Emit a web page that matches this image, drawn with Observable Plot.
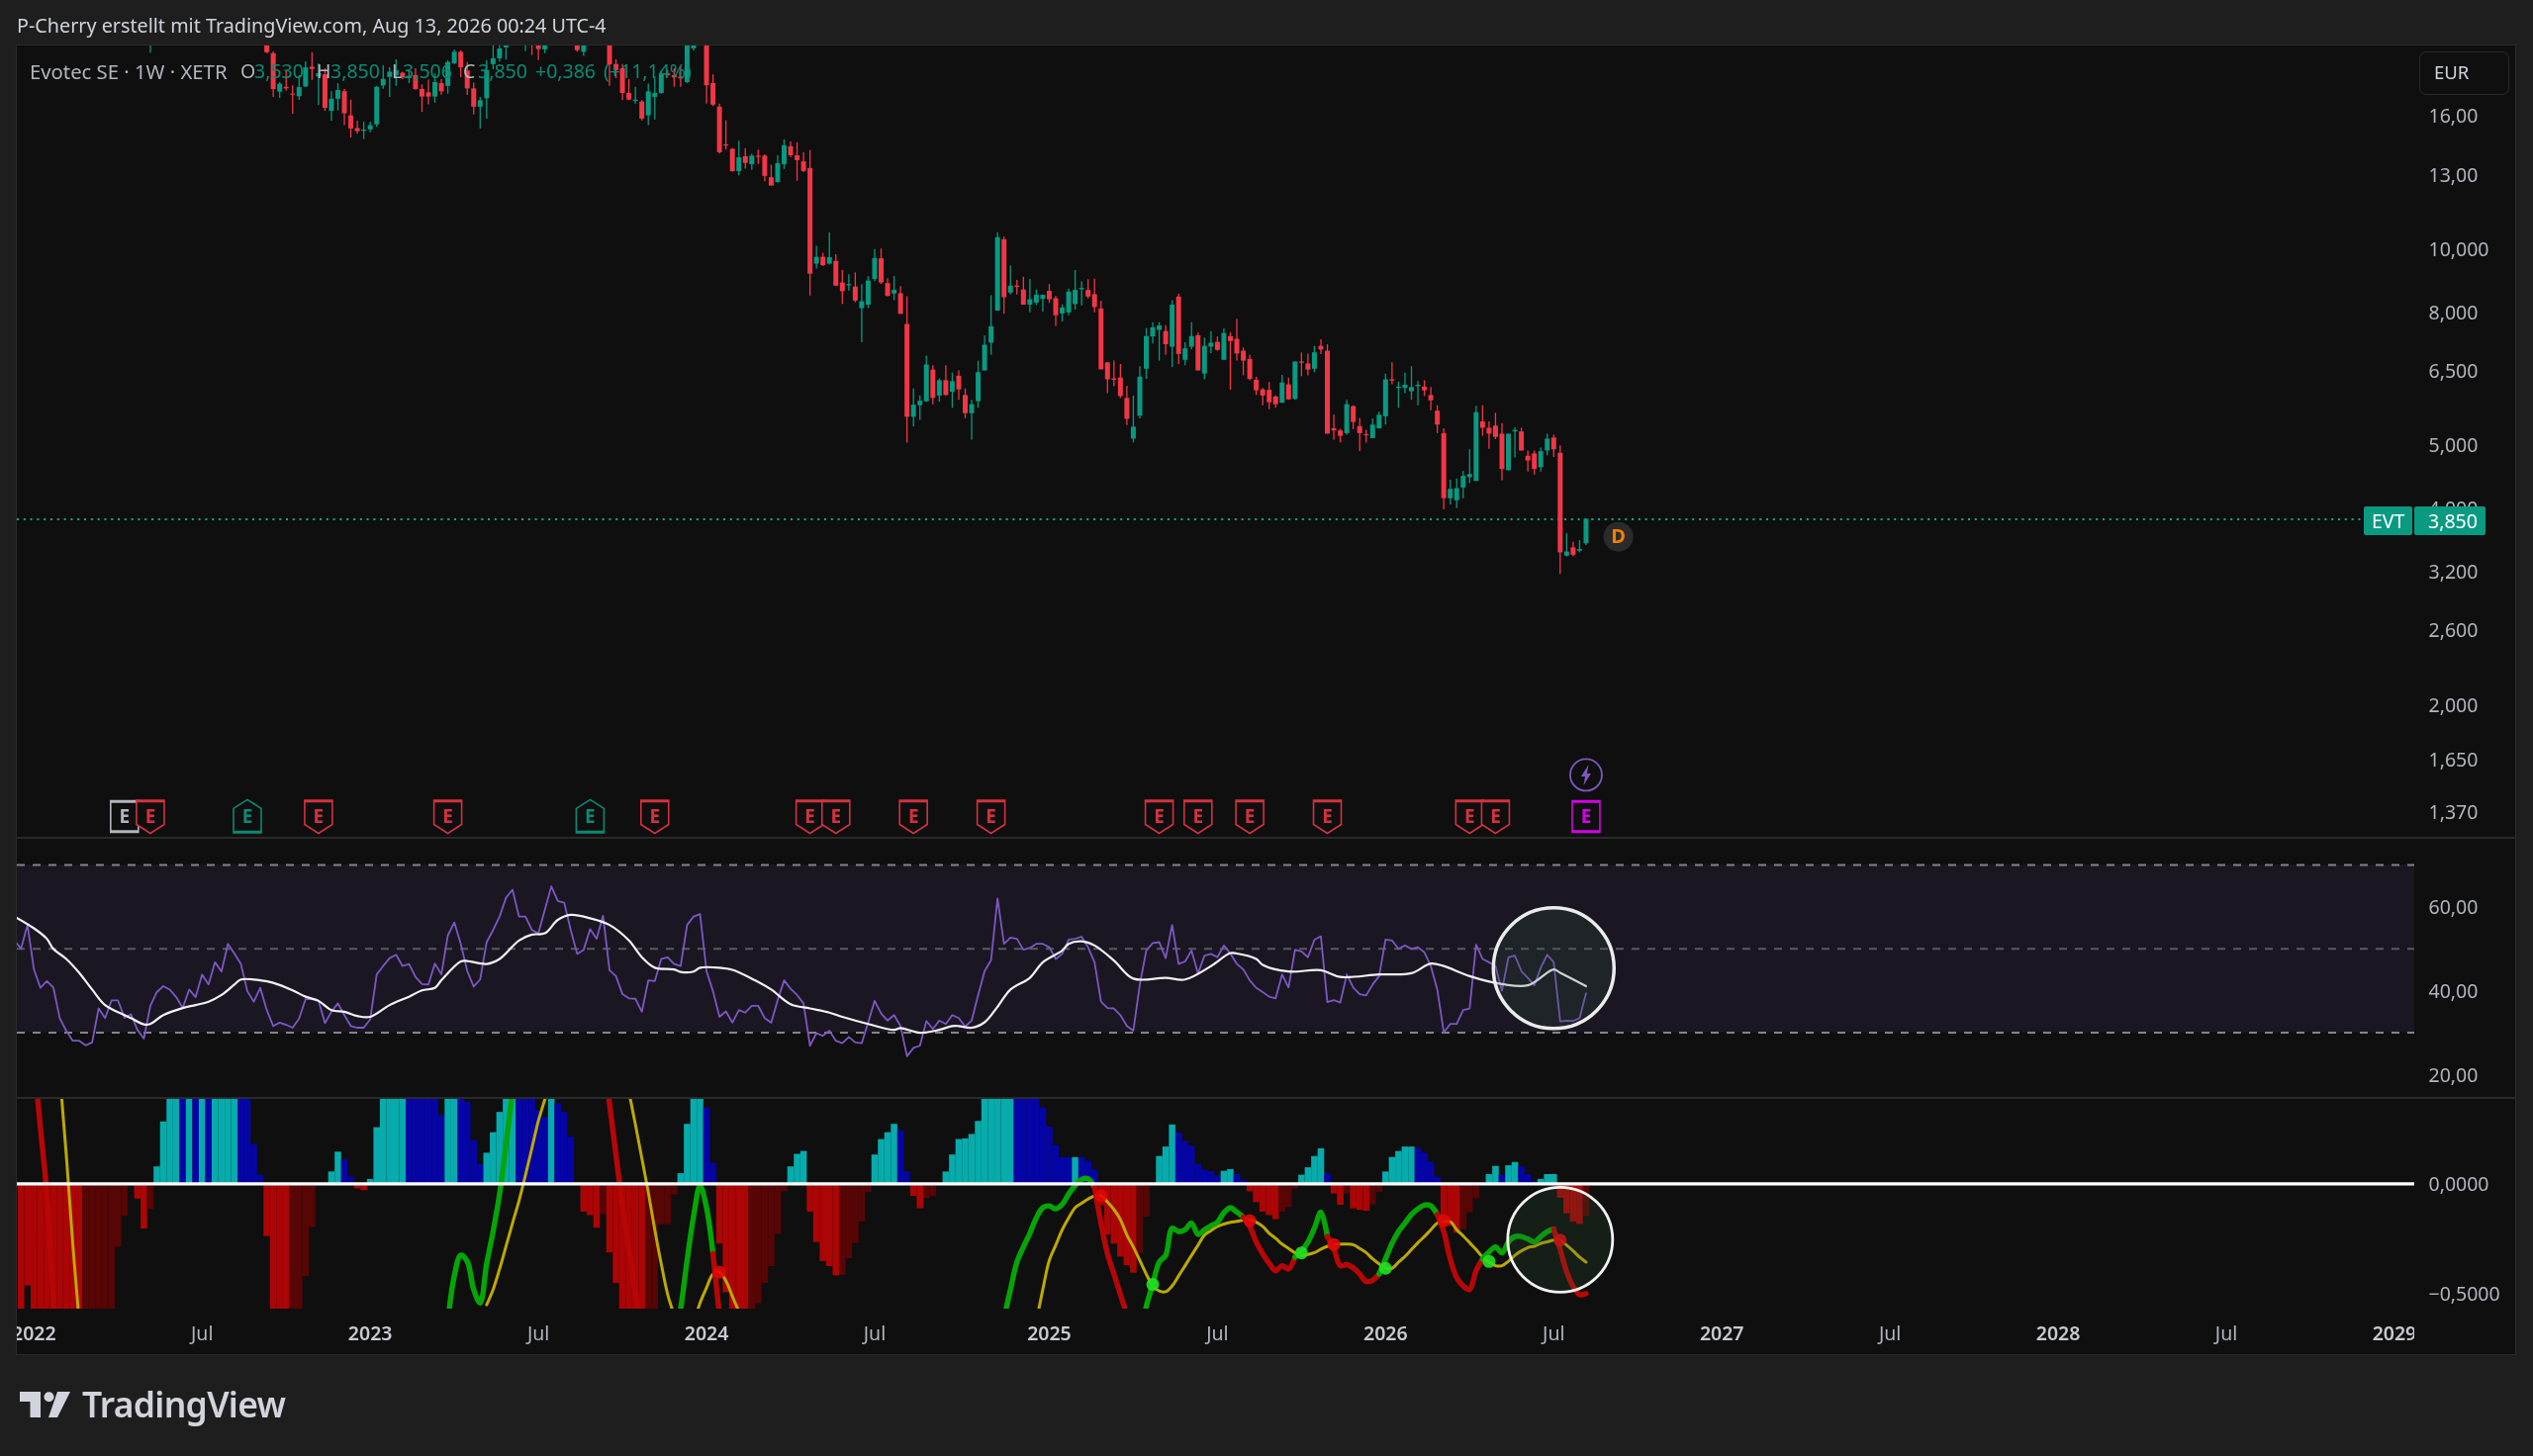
<!DOCTYPE html>
<html><head><meta charset="utf-8">
<script src="https://cdn.jsdelivr.net/npm/d3@7"></script>
<script src="https://cdn.jsdelivr.net/npm/@observablehq/plot@0.6"></script>
<style>
html,body{margin:0;padding:0;background:#1e1e1e}
#root{position:relative;width:2560px;height:1472px;background:#1e1e1e;overflow:hidden;font-family:"Noto Sans",sans-serif}
#panel{position:absolute;left:16px;top:45px;width:2527px;height:1325px;background:#0f0f0f;border:1.5px solid #2a2a2a;box-sizing:border-box}
.pane{position:absolute;left:17px}
.sep{position:absolute;left:17px;width:2526px;height:2px;background:#2a2a2a}
.t{position:absolute;white-space:nowrap;line-height:1}
</style></head><body><div id="root"><div id="panel"></div></div>
<script>
// ---------- time ----------
const firstWeek = Date.UTC(2022, 0, 3);
const week = i => new Date(firstWeek + i * 7 * 864e5);
const xDomain = [new Date("2021-12-16"), new Date("2029-01-23")];

// ---------- candles (weekly, first one = bar 36) ----------
const candleStart = 36;
const open = [
21.0,19.93,17.4,17.7,17.28,17.12,17.72,19.0,18.35,18.5,
16.26,16.97,17.43,16.0,15.3,15.15,15.23,15.5,17.78,18.33,
18.43,18.6,18.25,18.45,17.56,17.36,17.1,17.93,17.76,19.23,
20.03,18.75,17.6,16.5,17.0,19.18,19.57,20.35,21.0,21.6,
20.6,21.4,21.0,20.2,21.0,21.7,22.2,21.9,21.0,20.03,
20.8,21.4,22.0,21.5,19.18,18.9,17.32,16.84,16.8,16.0,
17.07,17.32,18.56,18.45,18.35,18.0,20.27,21.0,21.5,17.93,
16.5,14.44,14.22,13.14,13.85,13.47,13.88,13.88,12.86,12.65,
13.47,14.35,13.9,13.6,13.29,9.48,9.71,9.48,9.57,8.87,
8.78,8.74,8.1,8.2,8.98,9.66,8.85,8.53,8.54,7.66,
5.52,5.75,5.83,6.52,5.95,6.28,6.03,6.38,5.96,5.59,
5.83,6.5,7.17,8.03,10.33,8.56,8.77,8.65,8.2,8.26,
8.37,8.61,8.39,7.95,7.98,8.22,8.66,8.64,8.51,8.09,
6.69,6.32,6.34,5.9,5.11,5.54,6.54,7.33,7.5,7.47,
7.07,8.44,6.75,7.07,7.36,6.43,7.07,7.19,6.75,7.34,
7.27,6.97,6.77,6.29,6.08,6.07,5.93,5.8,6.19,5.88,
6.71,6.66,6.54,7.09,6.97,5.3,5.26,5.21,5.73,5.34,
5.19,5.12,5.3,5.53,6.3,6.11,6.11,6.04,6.15,6.14,
5.96,5.64,5.21,4.14,4.11,4.3,4.46,4.4,5.43,5.31,
5.35,5.2,4.57,5.24,5.24,4.81,4.85,4.62,4.9,5.13,
4.86,3.38,3.48,3.44,3.53];
const high = [
21.8,20.06,18.0,18.7,17.8,18.45,19.36,20.0,19.23,18.9,
17.43,17.93,17.56,16.92,15.7,15.65,15.65,17.75,19.1,18.96,
19.5,18.67,18.83,18.9,17.85,18.15,18.56,18.19,19.45,20.2,
20.15,19.32,17.97,17.08,19.45,20.5,20.6,21.0,22.0,22.2,
21.5,21.8,21.3,21.3,22.0,22.6,22.8,22.1,21.2,21.0,
21.7,22.3,22.4,22.0,19.5,19.18,18.19,17.7,16.88,17.9,
18.35,18.78,18.78,18.9,19.05,20.8,21.5,22.0,22.0,18.5,
16.68,15.72,14.25,14.63,14.25,13.97,14.18,13.95,13.44,13.9,
14.7,14.6,14.55,14.05,14.16,10.1,9.85,10.59,9.8,9.27,
9.13,9.19,8.82,9.07,9.98,10.0,9.0,9.07,8.76,8.45,
6.1,5.95,6.85,6.62,6.32,6.62,6.45,6.5,6.1,5.86,
6.73,7.36,8.48,10.58,10.43,9.42,8.95,9.05,8.98,8.65,
8.5,8.82,8.46,8.21,8.68,9.27,8.9,8.97,8.99,8.32,
6.69,6.73,6.65,6.16,5.95,6.6,7.55,7.71,7.71,7.63,
8.33,8.52,7.18,7.71,7.43,7.3,7.47,7.33,7.54,7.44,
7.8,7.05,6.87,6.36,6.11,6.24,5.95,6.4,6.34,6.71,
6.93,6.9,7.09,7.26,7.13,5.56,5.29,5.86,5.75,5.5,
5.27,5.49,5.62,6.43,6.69,6.25,6.45,6.6,6.26,6.28,
6.13,5.75,5.3,4.42,4.44,4.56,4.92,5.74,5.75,5.43,
5.6,5.4,5.2,5.32,5.31,4.9,4.9,4.95,5.2,5.18,
4.99,3.66,3.55,3.57,3.85];
const low = [
19.93,17.08,17.02,17.45,16.1,16.9,17.68,18.14,16.6,16.25,
15.7,16.28,15.46,14.8,15.0,14.72,15.07,15.37,17.58,17.08,
17.76,18.19,17.93,17.52,16.2,16.63,16.73,17.22,17.28,19.18,
18.32,17.2,16.05,15.28,15.82,18.83,19.35,19.5,20.9,20.8,
20.08,19.8,19.45,19.93,20.9,21.4,21.5,21.0,20.03,19.75,
20.5,21.2,21.2,17.76,18.25,16.88,16.88,16.68,15.72,15.46,
15.78,17.28,18.35,17.7,17.7,17.93,20.1,20.8,16.68,16.53,
13.98,14.18,13.12,12.95,13.26,13.2,13.48,12.68,12.49,12.61,
13.24,13.8,12.7,13.1,8.47,9.32,9.4,9.45,8.77,8.22,
8.62,8.27,7.18,8.1,8.91,8.82,8.44,8.33,7.94,5.04,
5.33,5.46,5.82,5.77,5.82,5.96,5.7,5.86,5.49,5.09,
5.7,6.5,6.87,8.03,7.94,8.5,8.5,8.2,7.98,8.19,
8.0,8.25,7.61,7.73,7.9,8.06,8.18,8.38,7.98,6.52,
6.0,6.15,5.9,5.36,5.04,5.49,6.31,7.15,6.73,6.87,
6.58,6.65,6.62,7.0,6.5,6.3,6.91,6.97,6.75,6.07,
6.73,6.39,6.28,5.96,5.75,5.67,5.7,5.8,5.86,5.86,
6.37,6.39,6.46,6.89,5.2,5.09,5.04,5.18,5.28,4.89,
5.04,5.12,5.3,5.37,6.19,5.7,6.0,5.86,5.75,5.94,
5.65,5.21,3.98,4.05,4.0,4.14,4.37,4.4,5.16,4.93,
5.1,4.41,4.57,4.78,4.9,4.55,4.5,4.55,4.82,4.79,
3.17,3.37,3.37,3.42,3.506];
const close = [
20.0,17.56,17.9,17.6,17.22,17.68,18.96,18.85,18.57,16.43,
16.97,17.5,16.12,15.28,15.13,15.22,15.46,17.7,18.2,18.67,
18.78,18.3,18.4,17.56,17.1,17.1,18.0,17.42,19.32,20.03,
18.96,17.6,16.5,16.88,18.78,19.57,20.27,20.8,21.6,21.0,
21.0,20.9,20.22,21.0,21.7,22.2,21.9,21.2,20.15,20.8,
21.4,22.0,21.5,19.16,18.78,17.32,16.92,16.92,15.82,17.42,
17.32,18.56,18.45,18.3,18.23,20.5,21.0,21.6,17.8,16.62,
14.05,14.38,13.14,13.8,13.53,13.88,13.82,12.92,12.49,13.52,
14.4,13.9,13.66,13.15,9.15,9.71,9.43,9.7,8.77,8.6,
8.82,8.32,8.3,8.93,9.67,8.87,8.46,8.64,7.94,5.52,
5.76,5.84,6.64,5.9,6.28,5.96,6.26,6.08,5.59,5.77,
6.46,7.12,7.6,10.41,8.42,8.77,8.73,8.2,8.36,8.49,
8.49,8.36,7.9,8.12,8.59,8.64,8.7,8.44,8.13,6.53,
6.3,6.29,5.94,5.48,5.33,6.36,7.34,7.57,7.62,7.13,
8.2,6.89,7.03,7.34,6.5,7.09,7.17,6.99,7.42,7.21,
6.9,6.73,6.31,6.06,5.95,5.81,5.77,6.23,5.87,6.71,
6.68,6.52,6.93,7.0,5.2,5.26,5.16,5.77,5.42,5.21,
5.17,5.37,5.56,6.3,6.27,6.14,6.18,6.13,6.18,6.06,
5.85,5.37,4.14,4.28,4.29,4.48,4.51,5.61,5.31,5.2,
5.14,4.59,5.2,5.27,4.9,4.73,4.59,4.89,5.11,4.92,
3.42,3.43,3.39,3.46,3.85];
const earlyBar = {i: 18, o: 22, h: 23, l: 19.97, c: 22.5};
const lastPrice = 3.85;

// ---------- tick labels ----------
const priceTicks = [16,13,10,8,6.5,5,4,3.2,2.6,2,1.65,1.37];
const priceLabels = ["16,00","13,00","10,000","8,000","6,500","5,000","4,000","3,200","2,600","2,000","1,650","1,370"];
const rsiTicks = [60,40,20];
const rsiLabels = ["60,00","40,00","20,00"];
const macdTicks = [0,-0.5];
const macdLabels = ["0,0000","\u22120,5000"];
const yearDates = ["2022-01-03","2023-01-02","2024-01-01","2025-01-06","2026-01-05","2027-01-04","2028-01-03","2029-01-01"];
const yearLabels = ["2022","2023","2024","2025","2026","2027","2028","2029"];
const julDates = ["2022-07-04","2023-07-03","2024-07-01","2025-07-07","2026-07-06","2027-07-05","2028-07-03"];

// ---------- earnings events ----------
const eventBars = [14,18,33,44,64,86,96,120,124,136,148,174,180,188,200,222,226,240];
const eventKinds = ["flat","down","up","down","down","up","down","down","down","down","down","down","down","down","down","down","down","next"];
const eventPrice = 1.348;
const dividendBar = 245, dividendPrice = 3.62;
const splitBar = 240, splitPrice = 1.561;

// ---------- RSI (first = bar -3) ----------
const rsiStart = -3;
const rsi = [
52.0,50.0,55.7,45.1,40.7,42.3,40.8,33.4,30.5,28.1,
28.1,27.0,27.7,35.8,33.5,37.7,37.7,33.6,34.4,30.7,
28.6,36.4,39.7,41.1,40.3,38.5,35.9,40.3,38.5,43.9,
41.5,46.8,44.6,51.2,48.9,46.4,39.9,37.4,40.7,35.4,
31.6,32.4,31.9,31.2,33.4,38.0,38.0,37.7,32.3,35.0,
37.0,34.2,31.6,31.2,31.2,33.2,43.9,45.9,47.8,48.6,
45.9,46.4,43.3,41.6,41.5,46.5,43.9,53.2,56.3,51.2,
44.7,41.0,42.7,51.6,54.5,57.7,62.2,64.1,57.7,57.7,
54.5,53.7,59.3,64.9,61.4,61.0,54.5,48.8,49.8,54.7,
52.4,57.9,44.9,43.5,39.2,38.2,38.1,35.0,42.5,42.3,
47.6,48.0,46.4,45.9,55.7,57.7,58.3,44.7,39.9,33.8,
35.1,32.4,35.4,34.8,36.4,36.4,33.5,32.4,37.8,42.5,
40.5,39.0,37.0,26.9,29.9,29.3,30.5,28.1,27.5,29.0,
27.7,27.5,32.5,37.6,34.6,32.9,34.2,31.6,24.4,26.4,
26.9,32.8,30.9,32.9,32.1,34.2,33.5,31.5,32.9,39.0,
44.7,47.3,62.0,51.2,52.7,52.4,49.8,50.2,51.2,51.2,
50.4,47.6,48.8,52.2,52.4,52.9,50.4,46.8,37.4,35.9,
35.8,34.2,31.6,30.5,41.5,49.6,51.4,51.6,47.8,55.7,
46.4,47.0,49.6,44.1,48.4,48.8,48.0,50.8,48.9,46.4,
45.1,42.5,40.7,39.7,38.6,38.2,43.9,40.8,49.8,49.4,
48.0,52.2,53.0,37.3,37.8,37.2,43.9,40.8,39.2,38.9,
41.5,43.5,52.2,52.0,50.0,50.8,50.0,50.4,49.2,45.9,
40.3,30.1,32.1,32.1,35.4,35.8,51.0,47.6,46.8,45.9,
40.0,48.0,48.4,44.7,43.1,41.3,45.5,48.6,46.8,32.7,
32.9,32.8,33.5,39.4];
const rsiMaBars = [-3,0,2,3,5,7,9,11,14,15,17,18,20,23,25,27,29,31,32,35,37,40,42,44,46,48,50,52,55,58,60,62,63,66,67,70,72,75,77,79,81,83,86,89,92,94,96,99,100,102,103,106,108,111,114,117,120,123,125,129,133,134,137,140,142,143,145,147,149,151,154,156,159,160,162,164,167,170,175,178,182,185,186,189,190,194,199,202,208,213,216,218,222,227,231,235,236,240];
const rsiMa = [57.7,54.9,52.4,50.0,47.6,44.3,40.3,36.6,34.2,33.5,32.0,32.1,34.2,35.9,36.6,37.4,39.0,41.5,42.7,42.5,41.9,40.1,38.6,37.6,35.4,35.0,34.0,33.8,36.6,38.6,40.1,40.7,42.5,47.0,47.1,46.4,47.6,52.0,53.4,53.7,56.9,58.1,57.3,55.7,52.0,48.0,45.5,45.1,44.5,44.6,45.5,45.5,45.0,42.9,40.3,36.8,35.8,34.8,33.8,32.1,30.7,31.1,30.0,30.7,31.6,31.6,31.2,32.5,36.2,40.3,43.1,46.8,49.6,51.2,51.8,50.8,47.2,42.9,43.1,42.7,45.9,49.0,48.9,47.6,46.2,44.6,44.9,43.3,43.9,44.2,46.5,45.9,43.5,41.6,41.3,45.1,44.3,41.1];

// ---------- MACD histogram (first = bar -2) ----------
const histStart = -2;
const hist = [
-.62,-.463,-.62,-.62,-.62,-.62,-.62,-.62,-.62,-.62,
-.62,-.62,-.62,-.62,-.62,-.286,-.147,-.008,-.069,-.205,
-.116,.077,.281,.45,.45,.45,.45,.45,.45,.45,
.45,.45,.45,.45,.45,.45,.178,.039,-.239,-.62,
-.62,-.62,-.62,-.62,-.42,-.198,-.008,.002,.054,.144,
.108,.031,-.023,-.031,.02,.255,.45,.45,.45,.45,
.45,.45,.45,.45,.45,.309,.45,.45,.45,.371,
.196,.088,.139,.232,.324,.45,.45,.45,.45,.45,
.332,.301,.45,.363,.324,.212,-.002,-.128,-.144,-.201,
-.139,-.313,-.452,-.62,-.62,-.62,-.62,-.62,-.62,-.185,
-.185,-.051,.046,.27,.45,.45,.344,.093,-.273,-.494,
-.62,-.62,-.62,-.62,-.545,-.452,-.375,-.229,-.036,.077,
.134,.147,-.128,-.266,-.352,-.375,-.417,-.414,-.34,-.27,
-.173,-.039,.131,.201,.232,.27,.242,.054,-.057,-.113,
-.066,-.057,.001,.054,.131,.201,.204,.224,.283,.45,
.45,.45,.45,.45,.45,.45,.45,.45,.344,.258,
.174,.119,.119,.119,.119,.103,.062,-.1,-.232,-.273,
-.332,-.371,-.405,-.317,-.15,-.008,.124,.167,.267,.232,
.193,.17,.088,.062,.054,.036,.057,.065,.043,.015,
-.036,-.085,-.128,-.144,-.162,-.128,-.108,-.023,.039,.073,
.124,.159,.046,-.046,-.097,-.046,-.113,-.12,-.124,-.096,
-.039,.054,.12,.147,.167,.167,.162,.139,.097,.031,
-.162,-.193,-.224,-.208,-.131,-.069,-.008,.042,.079,.039,
.082,.097,.077,.042,.011,.02,.042,.042,-.065,-.136,
-.173,-.184,-.148];
const histKinds = (
"RRRRRRRRRR"+"DDDDDDDDRR"+"DTTTTBTBTB"+"TTTTBBBBRR"+"RRDDDDDTTT"+
"BBRRTTTTTT"+"BBBBBBTTBB"+"BBTTTTTBBB"+"BBTBBBDRRR"+"DRRRRRRDDD"+
"DDTTTTBBRR"+"RRRDDDDDDT"+"TTRRRRRDDD"+"DDTTTTBBRR"+"DDTTTTTTTT"+
"TTTTBBBBBB"+"BBBTBBBRRR"+"RRRDDDTTTB"+"BBBBBBTTBB"+"RRRRRDDDTT"+
"TTBRRDRRRD"+"DTTTTTBBBB"+"RRRDDDDTTB"+"TTBBBTTTRR"+"RRD").split("");
const histColors = {T:"#07abab", B:"#0505a6", R:"#ab0505", D:"#570505"};

// ---------- MACD line segments: [first bar, direction, values] ----------
const macdSegments = [
[0,"down",[.568,.255,-.046,-.533,-.872]],
[64,"up",[-.625,-.417,-.324,-.351,-.479,-.54,-.363,-.216,-.046,.178,.425]],
[88,"down",[.595,.363,.131,-.1,-.301,-.486,-.672]],
[99,"up",[-.733,-.568,-.347,-.147,-.008,-.108,-.317]],
[105,"down",[-.317,-.595]],
[150,"up",[-.61,-.479,-.355,-.286,-.224,-.154,-.108,-.1,-.113,-.093,-.046,-.008,.02,.023,-.015]],
[164,"down",[-.015,-.178,-.317,-.409,-.502,-.595,-.703]],
[171,"up",[-.718,-.556,-.456,-.355,-.324,-.201,-.216,-.208,-.178,-.229,-.208,-.19,-.174,-.131,-.108,-.128,-.15]],
[187,"down",[-.15,-.193,-.263,-.317,-.36,-.394,-.371,-.386,-.332]],
[195,"up",[-.332,-.304,-.263,-.201,-.128,-.239]],
[200,"down",[-.239,-.293,-.371,-.366,-.381,-.409,-.443,-.437,-.409]],
[208,"up",[-.409,-.34,-.27,-.216,-.178,-.139,-.113,-.096,-.1,-.139]],
[217,"down",[-.139,-.216,-.34,-.425,-.463,-.479,-.394,-.34]],
[224,"up",[-.34,-.309,-.286,-.313,-.263,-.239,-.239,-.25,-.263,-.239,-.216,-.205]],
[235,"down",[-.205,-.298,-.398,-.465,-.502,-.497]]
];
// ---------- signal line segments: [first bar, values] ----------
const signalSegments = [
[3,[.857,.494,.131,-.27,-.625]],
[70,[-.548,-.479,-.386,-.283,-.178,-.077,.039,.162,.286,.383,.486]],
[92,[.417,.27,.116,-.039,-.208,-.363,-.502,-.595]],
[102,[-.633,-.54,-.471,-.409,-.401,-.44,-.51,-.579]],
[155,[-.625,-.479,-.347,-.278,-.208,-.154,-.108,-.088,-.069,-.054,-.054,-.082,-.116,-.162,-.232,-.286,-.347,-.409,-.463,-.486,-.489,-.463,-.417,-.371,-.324,-.278,-.232,-.212,-.193,-.182,-.174,-.17,-.164,-.162,-.174,-.193,-.224,-.247,-.273,-.293,-.313,-.324,-.32,-.312,-.296,-.283,-.275,-.273,-.273,-.276,-.293,-.312,-.34,-.363,-.381,-.383,-.355,-.329,-.298,-.267,-.239,-.208,-.178,-.171,-.171,-.208,-.236,-.267,-.298,-.332,-.355,-.371,-.371,-.351,-.324,-.304,-.289,-.283,-.27,-.263,-.255,-.258,-.278,-.304,-.332,-.355]]
];
const crossBars = [106,165,173,188,196,201,209,218,225,236];
const crossVals = [-.401,-.054,-.456,-.167,-.313,-.275,-.383,-.167,-.352,-.255];
const crossKinds = ["down","down","up","down","up","down","up","down","up","down"];
// hand-drawn annotation circles
const rsiCircle = {bar: 235, value: 45.4};
const macdCircle = {bar: 236, value: -0.253};

// ---------- styles ----------
const GREEN = "#089981", RED = "#f23645", BG = "#0f0f0f", AXIS = "#b2b5be";
const FONT = '"Noto Sans",sans-serif';
const W = 2527, MR = 104;
const base = {width: W, marginLeft: 0, marginRight: MR, marginTop: 0, marginBottom: 0,
  style: {background: "transparent", fontFamily: FONT, fontSize: "19.5px", color: AXIS, overflow: "hidden"}};
const xs = {type: "utc", domain: xDomain, axis: null};
const rightAxis = (ticks, labels) => Plot.axisY({anchor: "right", ticks, tickSize: 0, tickPadding: 14, label: null, dy: 0.8,
  tickFormat: d => labels[ticks.indexOf(d)], fill: AXIS, fontSize: 19.5});

const root = document.getElementById("root");
function place(svg, top) { svg.setAttribute("class", "pane " + (svg.getAttribute("class") || "")); svg.style.position = "absolute"; svg.style.left = "17px"; svg.style.top = top + "px"; root.appendChild(svg); }
function text(str, left, top, size, color, extra) {
  const s = document.createElement("span"); s.className = "t"; s.textContent = str;
  s.style.cssText += `left:${left}px;top:${top}px;font-size:${size}px;color:${color};${extra || ""}`;
  root.appendChild(s); return s;
}

// ---------- candles table ----------
const candles = open.map((o, k) => ({date: week(candleStart + k), o, h: high[k], l: low[k], c: close[k]}));
candles.unshift({date: week(earlyBar.i), o: earlyBar.o, h: earlyBar.h, l: earlyBar.l, c: earlyBar.c});
const candleColor = d => d.c >= d.o ? GREEN : RED;

// custom symbols
const shield = up => ({draw(ctx) {
  const s = up ? -1 : 1;
  ctx.moveTo(-14, -16.5 * s); ctx.lineTo(14, -16.5 * s); ctx.lineTo(14, 8 * s); ctx.lineTo(0, 17 * s); ctx.lineTo(-14, 8 * s); ctx.closePath();
  ctx.moveTo(-14, -15 * s); ctx.lineTo(14, -15 * s);
}});
const box = {draw(ctx) {
  ctx.moveTo(-14, -16); ctx.lineTo(14, -16); ctx.lineTo(14, 16); ctx.lineTo(-14, 16); ctx.closePath();
  ctx.moveTo(-14, -14.5); ctx.lineTo(14, -14.5); ctx.moveTo(-14, 14.5); ctx.lineTo(14, 14.5);
}};
const bolt = {draw(ctx) {
  ctx.moveTo(2.5, -10.5); ctx.lineTo(-5, 1.5); ctx.lineTo(-1, 1.5); ctx.lineTo(-2.5, 10.5); ctx.lineTo(5, -1.5); ctx.lineTo(1, -1.5); ctx.closePath();
}};
const kindStyle = {
  flat: {symbol: box, color: "#b2b5be"},
  down: {symbol: shield(false), color: "#d5313f"},
  up: {symbol: shield(true), color: "#0b8a74"},
  next: {symbol: box, color: "#d500e8"}
};
const eventMarks = eventBars.flatMap((b, k) => {
  const st = kindStyle[eventKinds[k]], row = [{date: week(b), p: eventPrice}];
  return [
    Plot.dot(row, {x: "date", y: "p", r: 10, symbol: st.symbol, fill: BG, stroke: st.color, strokeWidth: 1.6}),
    Plot.text(row, {x: "date", y: "p", text: () => "E", fill: st.color, fontSize: 19, fontWeight: 700, fontFamily: '"Liberation Sans Narrow","Noto Sans",sans-serif'})
  ];
});

// ---------- price pane ----------
place(Plot.plot({...base, height: 800, x: xs,
  y: {type: "log", domain: [1.2524, 20.48], range: [800, 0], axis: null},
  marks: [
    Plot.ruleY([lastPrice], {stroke: "#0fa88e", strokeDasharray: "2,4.8", strokeWidth: 2, x1: xDomain[0], x2: new Date(firstWeek + 2520 * 864e5)}),
    Plot.ruleX(candles, {x: "date", y1: "l", y2: "h", stroke: candleColor, strokeWidth: 1.3, clip: true}),
    Plot.ruleX(candles, {x: "date", y1: "o", y2: "c", stroke: candleColor, strokeWidth: 5, clip: true}),
    rightAxis(priceTicks, priceLabels),
    ...eventMarks,
    Plot.dot([{date: week(splitBar), p: splitPrice}], {x: "date", y: "p", r: 16, fill: BG, stroke: "#7e57c2", strokeWidth: 1.8}),
    Plot.dot([{date: week(splitBar), p: splitPrice}], {x: "date", y: "p", r: 10, symbol: bolt, fill: "#7e57c2"}),
    Plot.dot([{date: week(dividendBar) , p: dividendPrice}], {x: "date", y: "p", r: 15, fill: "#2b2b2b"}),
    Plot.text([{date: week(dividendBar), p: dividendPrice}], {x: "date", y: "p", text: () => "D", fill: "#f57c00", fontSize: 20, fontWeight: 700, fontFamily: FONT})
  ]}), 46);

// ---------- RSI pane ----------
const rsiData = rsi.map((v, k) => ({date: week(rsiStart + k), v}));
const rsiMaData = rsiMa.map((v, k) => ({date: week(rsiMaBars[k]), v}));
place(Plot.plot({...base, height: 262, x: xs,
  y: {domain: [14.34, 76.13], range: [262, 0], axis: null},
  marks: [
    Plot.rectY([0], {x1: xDomain[0], x2: xDomain[1], y1: 30, y2: 70, fill: "#1a1723"}),
    Plot.ruleY([70, 50, 30], {stroke: d => d === 50 ? "#5a5a62" : "#83838a", strokeWidth: 2, strokeDasharray: "8,8"}),
    Plot.line(rsiData, {x: "date", y: "v", stroke: "#7e57c2", strokeWidth: 1.8, clip: true}),
    Plot.line(rsiMaData, {x: "date", y: "v", stroke: "#f2f2f2", strokeWidth: 2.2, curve: "catmull-rom", clip: true}),
    Plot.dot([{date: week(rsiCircle.bar), v: rsiCircle.value}], {x: "date", y: "v", r: 61, fill: "#325a3c", fillOpacity: 0.2, stroke: "#ececec", strokeWidth: 3.5}),
    rightAxis(rsiTicks, rsiLabels)
  ]}), 848);

// ---------- MACD pane ----------
const histData = hist.map((v, k) => ({date: week(histStart + k), v, kind: histKinds[k]}));
const macdMarks = macdSegments.map(([s, dir, vals]) => Plot.line(vals.map((v, k) => ({date: week(s + k), v})),
  {x: "date", y: "v", stroke: dir === "up" ? "#06a506" : "#b80606", strokeWidth: 5.4, curve: "catmull-rom", clip: true, mixBlendMode: "screen"}));
const signalMarks = signalSegments.map(([s, vals]) => Plot.line(vals.map((v, k) => ({date: week(s + k), v})),
  {x: "date", y: "v", stroke: "#bda900", strokeWidth: 3, curve: "catmull-rom", clip: true, mixBlendMode: "screen"}));
const crossData = crossBars.map((b, k) => ({date: week(b), v: crossVals[k], kind: crossKinds[k]}));
place(Plot.plot({...base, height: 212, x: xs,
  y: {domain: [-0.568, 0.383], range: [212, 0], axis: null},
  marks: [
    Plot.ruleX(histData, {x: "date", y1: 0, y2: "v", stroke: d => histColors[d.kind], strokeWidth: 6.6, clip: true}),
    ...signalMarks,
    ...macdMarks,
    Plot.ruleY([0], {stroke: "#ffffff", strokeWidth: 3.2}),
    Plot.dot(crossData, {x: "date", y: "v", r: 6.5, fill: d => d.kind === "up" ? "#22e022" : "#e00808", fillOpacity: 0.9, clip: true}),
    Plot.dot([{date: week(macdCircle.bar), v: macdCircle.value}], {x: "date", y: "v", r: 53, fill: "#325a3c", fillOpacity: 0.2, stroke: "#f2f2f2", strokeWidth: 2.8}),
    rightAxis(macdTicks, macdLabels)
  ]}), 1111);

// ---------- time axis ----------
const yearRows = yearDates.map((d, k) => ({date: new Date(d), label: yearLabels[k]}));
const julRows = julDates.map(d => ({date: new Date(d), label: "Jul"}));
place(Plot.plot({...base, height: 47, x: xs, y: {domain: [0, 1], axis: null},
  marks: [
    Plot.text(yearRows, {x: "date", y: () => 0.47, text: "label", fill: "#c8cad0", fontSize: 19.5, fontWeight: 600, fontFamily: FONT, clip: true}),
    Plot.text(julRows, {x: "date", y: () => 0.47, text: "label", fill: AXIS, fontSize: 19.5, fontFamily: FONT, clip: true})
  ]}), 1323);

// ---------- separators ----------
[846, 1109].forEach(y => { const d = document.createElement("div"); d.className = "sep"; d.style.top = y + "px"; root.appendChild(d); });

// ---------- header & legend ----------
text("P-Cherry erstellt mit TradingView.com, Aug 13, 2026 00:24 UTC-4", 17, 16, 19.75, "#d1d4dc");
const LEG = "#b2b5be", VAL = "#0b8a74";
text("Evotec SE \u00b7 1W \u00b7 XETR", 30, 62, 20.3, LEG);
[["O",243,LEG],["3,530",257,VAL],["H",320,LEG],["3,850",334,VAL],["L",396,LEG],["3,506",407,VAL],["C",468,LEG],["3,850",483,VAL],["+0,386",541,VAL],["(+11,14%)",610,VAL]]
  .forEach(([s, x, c]) => text(s, x, 62, 19.5, c));

// ---------- EUR box & price tags ----------
const eur = document.createElement("div");
eur.style.cssText = "position:absolute;left:2445px;top:52px;width:91px;height:44px;border:1.5px solid #2a2a2a;border-radius:7px;box-sizing:border-box;background:#0f0f0f";
root.appendChild(eur);
text("EUR", 2460, 64, 18.5, "#d1d4dc");
[[2389, 49, "EVT", 2397], [2440, 72, "3,850", 2454]].forEach(([x, w, s, tx]) => {
  const d = document.createElement("div");
  d.style.cssText = `position:absolute;left:${x}px;top:512px;width:${w}px;height:29px;background:#0a9a82;border-radius:2px`;
  root.appendChild(d); text(s, tx, 517, 19.5, "#ffffff");
});

// ---------- TradingView mark ----------
const logo = document.createElementNS("http://www.w3.org/2000/svg", "svg");
logo.setAttribute("width", 52); logo.setAttribute("height", 28); logo.setAttribute("viewBox", "0 0 52 28");
logo.style.cssText = "position:absolute;left:20px;top:1407px";
logo.innerHTML = '<path fill="#d1d4dc" d="M0 0H21V26H10.5V10H0Z"/><circle cx="29.5" cy="5.3" r="5" fill="#d1d4dc"/><path fill="#d1d4dc" d="M38 0H51L38 26H29Z"/>';
root.appendChild(logo);
text("TradingView", 83, 1402, 35.5, "#d1d4dc", "font-weight:600;letter-spacing:-0.7px;");
</script></body></html>
